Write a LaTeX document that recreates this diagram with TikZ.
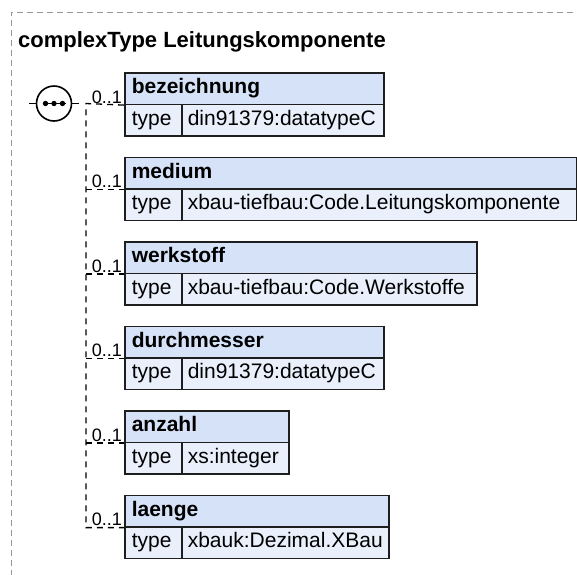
\documentclass[tikz,border=0pt]{standalone}
\usepackage{fontspec}
\setmainfont{Liberation Sans}
\definecolor{hdrfill}{RGB}{214,226,247}
\definecolor{rowfill}{RGB}{233,239,251}
\definecolor{boxline}{RGB}{30,30,30}
\definecolor{framegray}{RGB}{150,150,150}
\tikzset{
  frame/.style={draw=framegray, line width=0.9pt, dash pattern=on 6pt off 4pt},
  conn/.style={draw=black, line width=1.3pt, dash pattern=on 6pt off 5pt},
  cellbase/.style={draw=boxline, line width=1.6pt, anchor=north west,
    minimum height=31.5pt, inner ysep=0pt, inner xsep=7pt, align=left,
    text height=15pt, text depth=5pt},
  hdrbox/.style={cellbase, fill=hdrfill, font=\fontsize{21}{24}\selectfont\bfseries},
  keybox/.style={cellbase, fill=rowfill, font=\fontsize{21}{24}\selectfont},
  valbox/.style={cellbase, fill=rowfill, inner xsep=6pt, font=\fontsize{21}{24}\selectfont},
  card/.style={anchor=base east, inner sep=0pt, font=\fontsize{18}{20}\selectfont},
  titletext/.style={anchor=base west, inner sep=0pt, font=\fontsize{22}{26}\selectfont\bfseries},
  seqcircle/.style={circle, draw=black, line width=1.6pt, fill=white, minimum size=35pt, inner sep=0pt},
  stub/.style={draw=black, line width=1.3pt}
}
\newcommand{\Elem}[5]{%
  \pgfmathsetmacro{\hw}{#3-138}%
  \pgfmathsetmacro{\vw}{#3-193}%
  \node[hdrbox, text width=\hw pt] (#1h) at (124,#2) {#4};
  \node[keybox, text width=43pt] (#1k) at (124,#2+31.5) {type};
  \node[valbox, text width=\vw pt] (#1v) at (181,#2+31.5) {#5};
  \node[card] (#1c) at ([xshift=-2pt,yshift=2pt]#1h.south west) {0..1};
}
\begin{document}
\begin{tikzpicture}[x=1pt,y=-1pt]
  \useasboundingbox (0,0) rectangle (577,574);
  % outer frame
  \coordinate (fbl) at (11,576);
  \coordinate (ftl) at (11,12);
  \coordinate (ftr) at (578,12);
  \draw[frame] (fbl) -- (ftl) -- (ftr);
  \node[titletext] (title) at (18,47) {complexType Leitungskomponente};
  % elements
  \Elem{e1}{72}{383}{bezeichnung}{din91379:datatypeC}
  \Elem{e2}{156.5}{576}{medium}{xbau-tiefbau:Code.Leitungskomponente}
  \Elem{e3}{241}{476}{werkstoff}{xbau-tiefbau:Code.Werkstoffe}
  \Elem{e4}{325.5}{383}{durchmesser}{din91379:datatypeC}
  \Elem{e5}{410}{288}{anzahl}{xs:integer}
  \Elem{e6}{494.5}{388}{laenge}{xbauk:Dezimal.XBau}
  % sequence compositor
  \node[seqcircle] (seq) at (54,103.5) {};
  \coordinate (dl) at ([xshift=-8.5pt]seq.center);
  \coordinate (dr) at ([xshift=8.5pt]seq.center);
  \draw[line width=1.2pt] ([xshift=-3pt]dl) -- ([xshift=3pt]dr);
  \fill (dl) circle (2.7pt) (seq.center) circle (2.7pt) (dr) circle (2.7pt);
  \coordinate (inL) at (29,103.5);
  \coordinate (outR) at (79,103.5);
  \draw[stub] (inL) -- (seq.west);
  \draw[stub] (seq.east) -- (outR);
  % connectors
  \coordinate (tk) at (86,103.5);
  \draw[conn] (e1h.south west) -- (tk) -- (tk |- e6h.south west) -- (e6h.south west);
  \foreach \i in {2,3,4,5} {
    \draw[conn] (tk |- e\i h.south west) -- (e\i h.south west);
  }
\end{tikzpicture}
\end{document}
